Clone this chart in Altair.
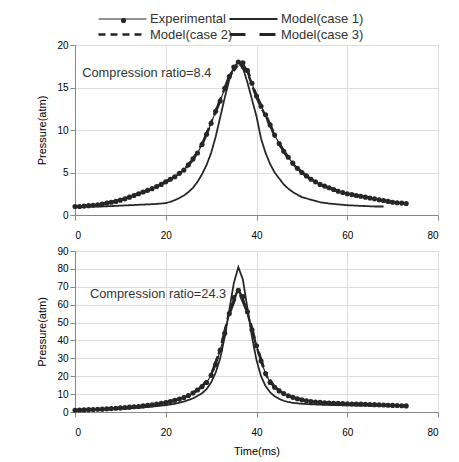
import altair as alt
import pandas as pd

SERIES = ["Experimental", "Model(case 1)", "Model(case 2)", "Model(case 3)"]

# ---------------- Top panel (compression ratio 8.4) ----------------
exp_t_top = list(range(0, 74))
exp_p_top = [1.0, 1.0, 1.05, 1.1, 1.15, 1.2, 1.3, 1.4, 1.5, 1.6,
             1.75, 1.9, 2.1, 2.3, 2.5, 2.7, 2.9, 3.1, 3.35, 3.6,
             3.9, 4.2, 4.5, 4.9, 5.3, 5.9, 6.6, 7.3, 8.3, 9.5,
             10.8, 12.2, 13.4, 14.9, 16.3, 17.4, 18.0, 17.9, 17.0, 15.5,
             14.0, 12.8, 11.8, 10.6, 9.4, 8.4, 7.5, 6.8, 6.1, 5.5,
             5.0, 4.6, 4.2, 3.9, 3.6, 3.4, 3.2, 3.0, 2.8, 2.65,
             2.5, 2.4, 2.3, 2.2, 2.1, 2.0, 1.9, 1.8, 1.7, 1.6,
             1.5, 1.45, 1.4, 1.35]

c1_t_top = [0, 2, 4, 6, 8, 10, 12, 14, 16, 18, 20, 21, 22, 23, 24, 25, 26, 27,
            28, 29, 30, 31, 32, 33, 34, 35, 36, 37, 38, 39, 40, 41, 42, 43, 44,
            45, 46, 47, 48, 49, 50, 52, 54, 56, 58, 60, 62, 64, 66, 68]
c1_p_top = [1.0, 1.0, 1.0, 1.0, 1.05, 1.1, 1.15, 1.2, 1.25, 1.3, 1.4, 1.55, 1.75,
            2.0, 2.3, 2.7, 3.2, 3.9, 4.8, 5.9, 7.3, 9.2, 11.5, 13.8, 15.9, 17.4,
            18.0, 17.3, 15.6, 13.6, 11.6, 9.0, 7.3, 6.0, 5.0, 4.3, 3.6, 3.1, 2.7,
            2.4, 2.1, 1.8, 1.5, 1.35, 1.25, 1.15, 1.1, 1.05, 1.0, 1.0]

c23_t_top = list(range(0, 73, 2))
c2_p_top = [1.0, 1.05, 1.15, 1.3, 1.5, 1.75, 2.15, 2.5, 2.9, 3.35,
            3.9, 4.5, 5.3, 6.6, 8.4, 10.9, 13.6, 16.2, 17.7, 16.8,
            13.8, 11.6, 9.3, 7.4, 6.0, 5.0, 4.2, 3.6, 3.2, 2.8,
            2.5, 2.3, 2.1, 1.9, 1.7, 1.5, 1.4]
c3_p_top = [1.0, 1.05, 1.15, 1.3, 1.5, 1.75, 2.1, 2.5, 2.9, 3.35,
            3.9, 4.5, 5.3, 6.5, 8.3, 10.8, 13.5, 16.3, 17.9, 17.0,
            14.0, 11.8, 9.4, 7.5, 6.1, 5.0, 4.2, 3.6, 3.2, 2.8,
            2.5, 2.3, 2.1, 1.9, 1.7, 1.5, 1.4]

# ---------------- Bottom panel (compression ratio 24.3) ----------------
exp_t_bot = list(range(0, 74))
exp_p_bot = [1.0, 1.1, 1.2, 1.3, 1.4, 1.5, 1.6, 1.75, 1.9, 2.1,
             2.3, 2.5, 2.7, 2.9, 3.1, 3.4, 3.7, 4.0, 4.4, 4.8,
             5.3, 5.8, 6.5, 7.2, 8.1, 9.2, 10.6, 12.3, 14.2, 16.5,
             20.5, 26.5, 34.5, 44.0, 55.0, 64.0, 68.0, 64.5, 56.0, 46.0,
             37.0, 28.5, 21.5, 16.5, 13.8, 11.8, 10.3, 9.1, 8.2, 7.4,
             6.8, 6.3, 5.9, 5.6, 5.4, 5.2, 5.0, 4.9, 4.8, 4.7,
             4.6, 4.5, 4.45, 4.4, 4.3, 4.2, 4.1, 4.0, 3.9, 3.8,
             3.7, 3.6, 3.5, 3.4]

c1_t_bot = [0, 4, 8, 12, 16, 20, 22, 24, 26, 28, 29, 30, 31, 32, 33, 34, 35, 36,
            37, 38, 39, 40, 41, 42, 43, 44, 45, 46, 47, 48, 50, 52, 55, 60, 65,
            70, 73]
c1_p_bot = [1.0, 1.2, 1.5, 2.0, 2.8, 3.8, 4.6, 5.8, 7.6, 10.5, 12.8, 16.5, 22.0,
            30.0, 42.0, 57.0, 72.0, 81.0, 74.0, 58.0, 42.0, 29.0, 20.0, 14.5,
            11.0, 8.8, 7.3, 6.3, 5.6, 5.1, 4.6, 4.3, 4.0, 3.7, 3.5, 3.4, 3.3]

c23_t_bot = list(range(0, 73, 2))
c2_p_bot = [1.0, 1.2, 1.4, 1.6, 1.9, 2.3, 2.7, 3.1, 3.7, 4.4,
            5.3, 6.5, 8.1, 10.6, 14.3, 20.8, 35.0, 56.0, 69.0, 55.5,
            36.5, 21.0, 13.6, 10.2, 8.1, 6.8, 5.9, 5.4, 5.0, 4.8,
            4.6, 4.45, 4.3, 4.1, 3.9, 3.7, 3.5]
c3_p_bot = [1.0, 1.2, 1.4, 1.6, 1.9, 2.3, 2.7, 3.1, 3.7, 4.4,
            5.3, 6.5, 8.1, 10.6, 14.2, 20.5, 34.5, 55.0, 68.0, 56.0,
            37.0, 21.5, 13.8, 10.3, 8.2, 6.8, 5.9, 5.4, 5.0, 4.8,
            4.6, 4.5, 4.3, 4.1, 3.9, 3.7, 3.5]

notes_top = {"t": [1.6], "p": [16.7], "label": ["Compression ratio=8.4"]}
notes_bot = {"t": [3.3], "p": [66.0], "label": ["Compression ratio=24.3"]}

x_ticks = [0, 20, 40, 60, 80]
y_ticks_top = [0, 5, 10, 15, 20]
y_ticks_bot = [0, 10, 20, 30, 40, 50, 60, 70, 80, 90]

INK = "#262626"
FONT = "Liberation Sans"
KEY_PATH = "M-3.43,0H3.43"   # long horizontal legend key

dash_scale = alt.Scale(domain=SERIES, range=[[1, 0], [1, 0], [7, 5], [16, 14]])
width_scale = alt.Scale(domain=SERIES, range=[1.2, 2.9, 2.2, 2.2])


def long_df(pairs):
    rows = []
    for name, ts, ps in pairs:
        for t, p in zip(ts, ps):
            rows.append({"series": name, "t": t, "p": p})
    return pd.DataFrame(rows)


def panel(exp_t, exp_p, c1_t, c1_p, c23_t, c2_p, c3_p, notes, ymax, yticks,
          height, xtitle, show_legend):
    lines = long_df([
        ("Model(case 2)", c23_t, c2_p),
        ("Model(case 3)", c23_t, c3_p),
        ("Experimental", exp_t, exp_p),
        ("Model(case 1)", c1_t, c1_p),
    ])
    exp_df = pd.DataFrame({"t": exp_t, "p": exp_p, "series": "Experimental"})

    x = alt.X("t:Q", scale=alt.Scale(domain=[0, 80], nice=False),
              axis=alt.Axis(values=x_ticks, title=xtitle, labelPadding=10,
                            titlePadding=8, titleFontWeight=400))
    y = alt.Y("p:Q", scale=alt.Scale(domain=[0, ymax], nice=False),
              axis=alt.Axis(values=yticks, title="Pressure(atm)", titlePadding=9,
                            labelOverlap=False, titleFontWeight=400))

    if show_legend:
        leg = alt.Legend(orient="none", legendX=39, legendY=-34, columns=2,
                         direction="horizontal",
                         title=None, symbolType=KEY_PATH, symbolSize=196,
                         labelFontSize=13, labelColor="#333", labelFont=FONT,
                         symbolStrokeColor=INK, columnPadding=-10, rowPadding=-1,
                         labelOffset=19)
        shp_leg = alt.Legend(orient="none", legendX=43.5, legendY=-29.5, title=None,
                             symbolSize=26, symbolFillColor=INK,
                             symbolStrokeColor=INK, labelExpr="''")
    else:
        leg = None
        shp_leg = None

    line_layer = alt.Chart(lines).mark_line(color=INK).encode(
        x=x, y=y,
        detail="series:N",
        strokeDash=alt.StrokeDash("series:N", scale=dash_scale, legend=leg),
        strokeWidth=alt.StrokeWidth("series:N", scale=width_scale, legend=leg),
    )
    pts = alt.Chart(exp_df).mark_point(filled=True, color=INK, size=26, opacity=1).encode(
        x=x, y=y,
        shape=alt.Shape("series:N",
                        scale=alt.Scale(domain=["Experimental"], range=["circle"]),
                        legend=shp_leg),
    )
    txt = alt.Chart(pd.DataFrame(notes)).mark_text(
        align="left", baseline="middle", fontSize=12.8, color="#333",
        font=FONT).encode(x=x, y=y, text="label:N")

    return alt.layer(line_layer, pts, txt).properties(width=363, height=height)


top = panel(exp_t_top, exp_p_top, c1_t_top, c1_p_top, c23_t_top, c2_p_top, c3_p_top,
            notes_top, 20, y_ticks_top, 170, None, True)
bot = panel(exp_t_bot, exp_p_bot, c1_t_bot, c1_p_bot, c23_t_bot, c2_p_bot, c3_p_bot,
            notes_bot, 90, y_ticks_bot, 161, "Time(ms)", False)

chart = alt.vconcat(top, bot, spacing=4).resolve_scale(
    strokeDash="independent", strokeWidth="independent", shape="independent"
).properties(
    padding={"left": 28, "top": 2, "right": 5, "bottom": 5}
).configure_view(stroke=None).configure_axis(
    grid=False, domainColor="#9a9a9a", tickColor="#9a9a9a", tickSize=4,
    labelColor="#555", labelFont=FONT, labelFontSize=12,
    titleColor="#444", titleFont=FONT, titleFontSize=12,
).configure(background="white")

chart.save("out.html", embed_options={"renderer": "svg", "actions": False})
